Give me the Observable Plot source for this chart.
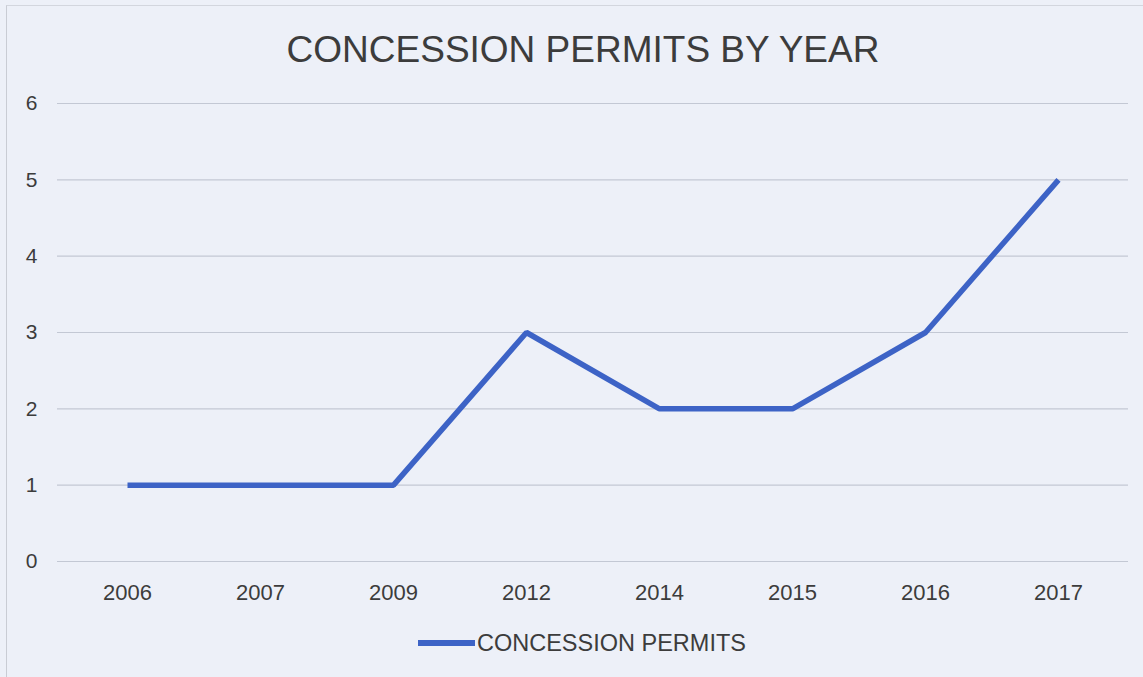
<!DOCTYPE html>
<html>
<head>
<meta charset="utf-8">
<script src="https://cdn.jsdelivr.net/npm/d3@7"></script>
<script src="https://cdn.jsdelivr.net/npm/@observablehq/plot@0.6"></script>
<style>
  html, body { margin: 0; padding: 0; }
  body { width: 1143px; height: 677px; background: #edf0f8; position: relative; overflow: hidden;
         font-family: "Liberation Sans", Arial, sans-serif; color: #3c3c3c; }
  #frame { position: absolute; left: 6px; top: 5px; width: 1137px; height: 672px;
           border-left: 1px solid #c9ccd4; border-top: 1px solid #d3d6de; box-sizing: border-box; }
  #title { position: absolute; left: 0; top: 28px; width: 1166px; text-align: center;
           font-size: 37px; line-height: 44px; white-space: nowrap; }
  #chart { position: absolute; left: 0; top: 80px; }
  #chart svg g[aria-label="y-axis tick label"] { font-size: 21px; }
  #chart svg g[aria-label="x-axis tick label"] { font-size: 22px; }
  #legend { position: absolute; left: 418px; top: 628px; height: 30px; display: flex; align-items: center; }
  #legend span { display: inline-block; font-size: 23.5px; margin-left: 2px; white-space: nowrap; }
</style>
</head>
<body>
<div id="frame"></div>
<div id="title">CONCESSION PERMITS BY YEAR</div>
<div id="chart"></div>
<div id="legend"><svg width="57" height="30"><line x1="0" x2="57" y1="15" y2="15" stroke="#3d63c6" stroke-width="6"></line></svg><span id="legend-label"></span></div>
<script>
const years = ["2006", "2007", "2009", "2012", "2014", "2015", "2016", "2017"];
const permits = [1, 1, 1, 3, 2, 2, 3, 5];
const yTicks = [0, 1, 2, 3, 4, 5, 6];
const seriesName = "CONCESSION PERMITS";

document.getElementById("legend-label").textContent = seriesName;

const data = years.map((year, i) => ({year, permits: permits[i]}));

const chart = Plot.plot({
  width: 1143,
  height: 535,
  marginTop: 23,
  marginBottom: 54,
  marginLeft: 57,
  marginRight: 15,
  style: {background: "transparent", fontFamily: "'Liberation Sans', Arial, sans-serif", fontSize: "21px", color: "#3c3c3c"},
  x: {type: "point", domain: years, padding: 0.5, label: null},
  y: {domain: [0, 6], label: null},
  marks: [
    Plot.ruleY(yTicks, {stroke: "#c3c8d4", strokeWidth: 1.2}),
    Plot.axisY(yTicks, {tickSize: 0, tickPadding: 20, label: null, fill: "#3c3c3c", tickFormat: d3.format("d")}),
    Plot.axisX({tickSize: 0, tickPadding: 23, label: null, fill: "#3c3c3c"}),
    Plot.lineY(data, {x: "year", y: "permits", stroke: "#3d63c6", strokeWidth: 5.5, strokeLinejoin: "miter", strokeLinecap: "butt"})
  ]
});
document.getElementById("chart").appendChild(chart);
</script>
</body>
</html>
